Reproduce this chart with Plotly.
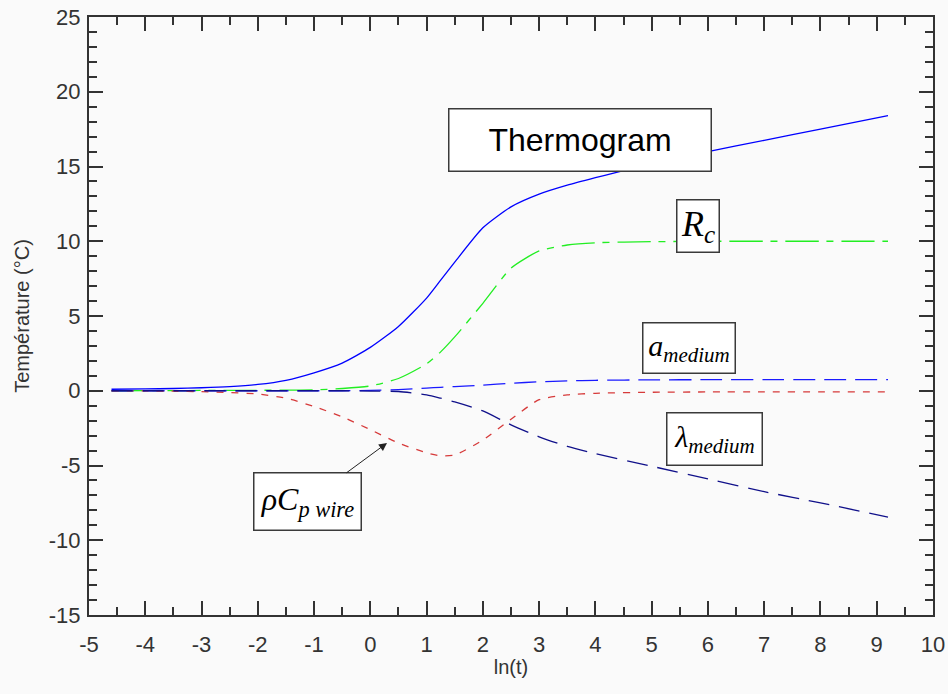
import plotly.graph_objects as go

# ln(t) sampling grid shared by all curves
ln_t = [-4.6, -4.0, -3.5, -3.0, -2.5, -2.0, -1.5, -1.0, -0.5, 0.0, 0.5, 1.0,
        1.25, 1.5, 2.0, 2.5, 3.0, 3.5, 4.0, 5.0, 6.0, 7.0, 8.0, 9.2]

# Temperature responses (°C)
thermogram = [0.10, 0.12, 0.15, 0.20, 0.28, 0.42, 0.70, 1.20, 1.85, 2.90, 4.30, 6.20,
              7.40, 8.60, 10.90, 12.30, 13.15, 13.75, 14.25, 15.20, 16.00, 16.75, 17.50, 18.40]
r_c = [0.00, 0.01, 0.01, 0.02, 0.02, 0.03, 0.04, 0.06, 0.15, 0.32, 0.82, 1.80,
       2.60, 3.60, 5.85, 8.20, 9.35, 9.75, 9.90, 9.97, 10.00, 10.00, 10.00, 10.00]
a_medium = [0.00, 0.00, 0.00, 0.00, 0.00, 0.00, 0.00, 0.00, 0.00, 0.02, 0.08, 0.18,
            0.23, 0.28, 0.38, 0.50, 0.60, 0.66, 0.70, 0.73, 0.74, 0.75, 0.75, 0.75]
lambda_medium = [0.00, 0.00, 0.00, 0.00, 0.00, 0.00, 0.00, 0.00, 0.00, -0.02, -0.05, -0.28,
                 -0.50, -0.75, -1.35, -2.28, -3.08, -3.72, -4.20, -5.05, -5.90, -6.75, -7.50, -8.45]
rho_cp_wire = [0.00, -0.01, -0.03, -0.06, -0.12, -0.22, -0.50, -1.05, -1.75, -2.60, -3.50, -4.15,
               -4.35, -4.30, -3.30, -1.90, -0.60, -0.28, -0.17, -0.10, -0.08, -0.08, -0.08, -0.08]

x_ticks = list(range(-5, 11))
y_ticks = list(range(-15, 26, 5))

AX = "#333333"
SANS = "Liberation Sans, Arial, sans-serif"
SERIF = "Liberation Serif, Times New Roman, serif"

fig = go.Figure()

curves = [
    (thermogram, "#0000ff", "solid", 1.3),
    (r_c, "#22ee22", "33px,8px,7px,8px", 1.3),
    (a_medium, "#1a1aff", "22px,9px", 1.3),
    (rho_cp_wire, "#d63a3a", "7px,8px", 1.3),
    (lambda_medium, "#10108a", "21px,10px", 1.3),
]
for ys, color, dash, w in curves:
    fig.add_trace(go.Scatter(
        x=ln_t, y=ys, mode="lines",
        line=dict(color=color, dash=dash, width=w, shape="spline", smoothing=0.6),
        showlegend=False, hoverinfo="skip",
    ))

box = dict(bgcolor="white", bordercolor="#3a3a3a", borderwidth=1.5, borderpad=0,
           showarrow=False, xref="x", yref="y")

fig.add_annotation(x=3.726, y=16.74, text="Thermogram", width=261, height=61,
                   font=dict(family=SANS, size=32, color="black"), **box)
fig.add_annotation(x=5.823, y=11.02, text="<i>R<sub>c</sub></i>", width=41, height=51,
                   font=dict(family=SERIF, size=36, color="black"), **box)
fig.add_annotation(x=5.663, y=2.86, text="<i>a<sub>medium</sub></i>", width=91, height=49,
                   font=dict(family=SERIF, size=30, color="black"), **box)
fig.add_annotation(x=6.116, y=-3.23, text="<i>λ<sub>medium</sub></i>", width=94, height=51,
                   font=dict(family=SERIF, size=30, color="black"), **box)
fig.add_annotation(x=0.296, y=-3.495, ax=-79.5, ay=58.5, axref="pixel", ayref="pixel",
                   text="<i>ρC<sub>p wire</sub></i>", width=106, height=56,
                   showarrow=True, arrowhead=2, arrowsize=1.6, arrowwidth=1, arrowcolor="#222",
                   bgcolor="white", bordercolor="#3a3a3a", borderwidth=1.5, borderpad=0,
                   xref="x", yref="y",
                   font=dict(family=SERIF, size=32, color="black"))

axis_common = dict(
    showgrid=False, zeroline=False, showline=True, linecolor=AX, linewidth=2,
    mirror="ticks", ticks="inside", tickcolor=AX, tickwidth=1.5, ticklen=14,
    tickfont=dict(family=SANS, size=22, color="#333333"), automargin=False,
)

fig.update_xaxes(
    range=[-5, 10], tickvals=x_ticks, ticktext=[str(v) for v in x_ticks],
    minor=dict(dtick=0.5, ticks="inside", ticklen=8, tickcolor=AX, tickwidth=1.5),
    ticklabelstandoff=9,
    title=dict(text="ln(t)", font=dict(family=SANS, size=20, color="#333333"), standoff=4),
    **axis_common,
)
fig.update_yaxes(
    range=[-15, 25], tickvals=y_ticks, ticktext=[str(v) for v in y_ticks],
    minor=dict(dtick=1, ticks="inside", ticklen=8, tickcolor=AX, tickwidth=1.5),
    ticklabelstandoff=2,
    title=dict(text="Température (°C)", font=dict(family=SANS, size=20, color="#333333"), standoff=14),
    **axis_common,
)

fig.update_layout(
    width=948, height=694,
    margin=dict(l=89, r=15, t=17, b=79),
    paper_bgcolor="#fafafa", plot_bgcolor="#fafafa",
)

fig.write_html("out.html")
